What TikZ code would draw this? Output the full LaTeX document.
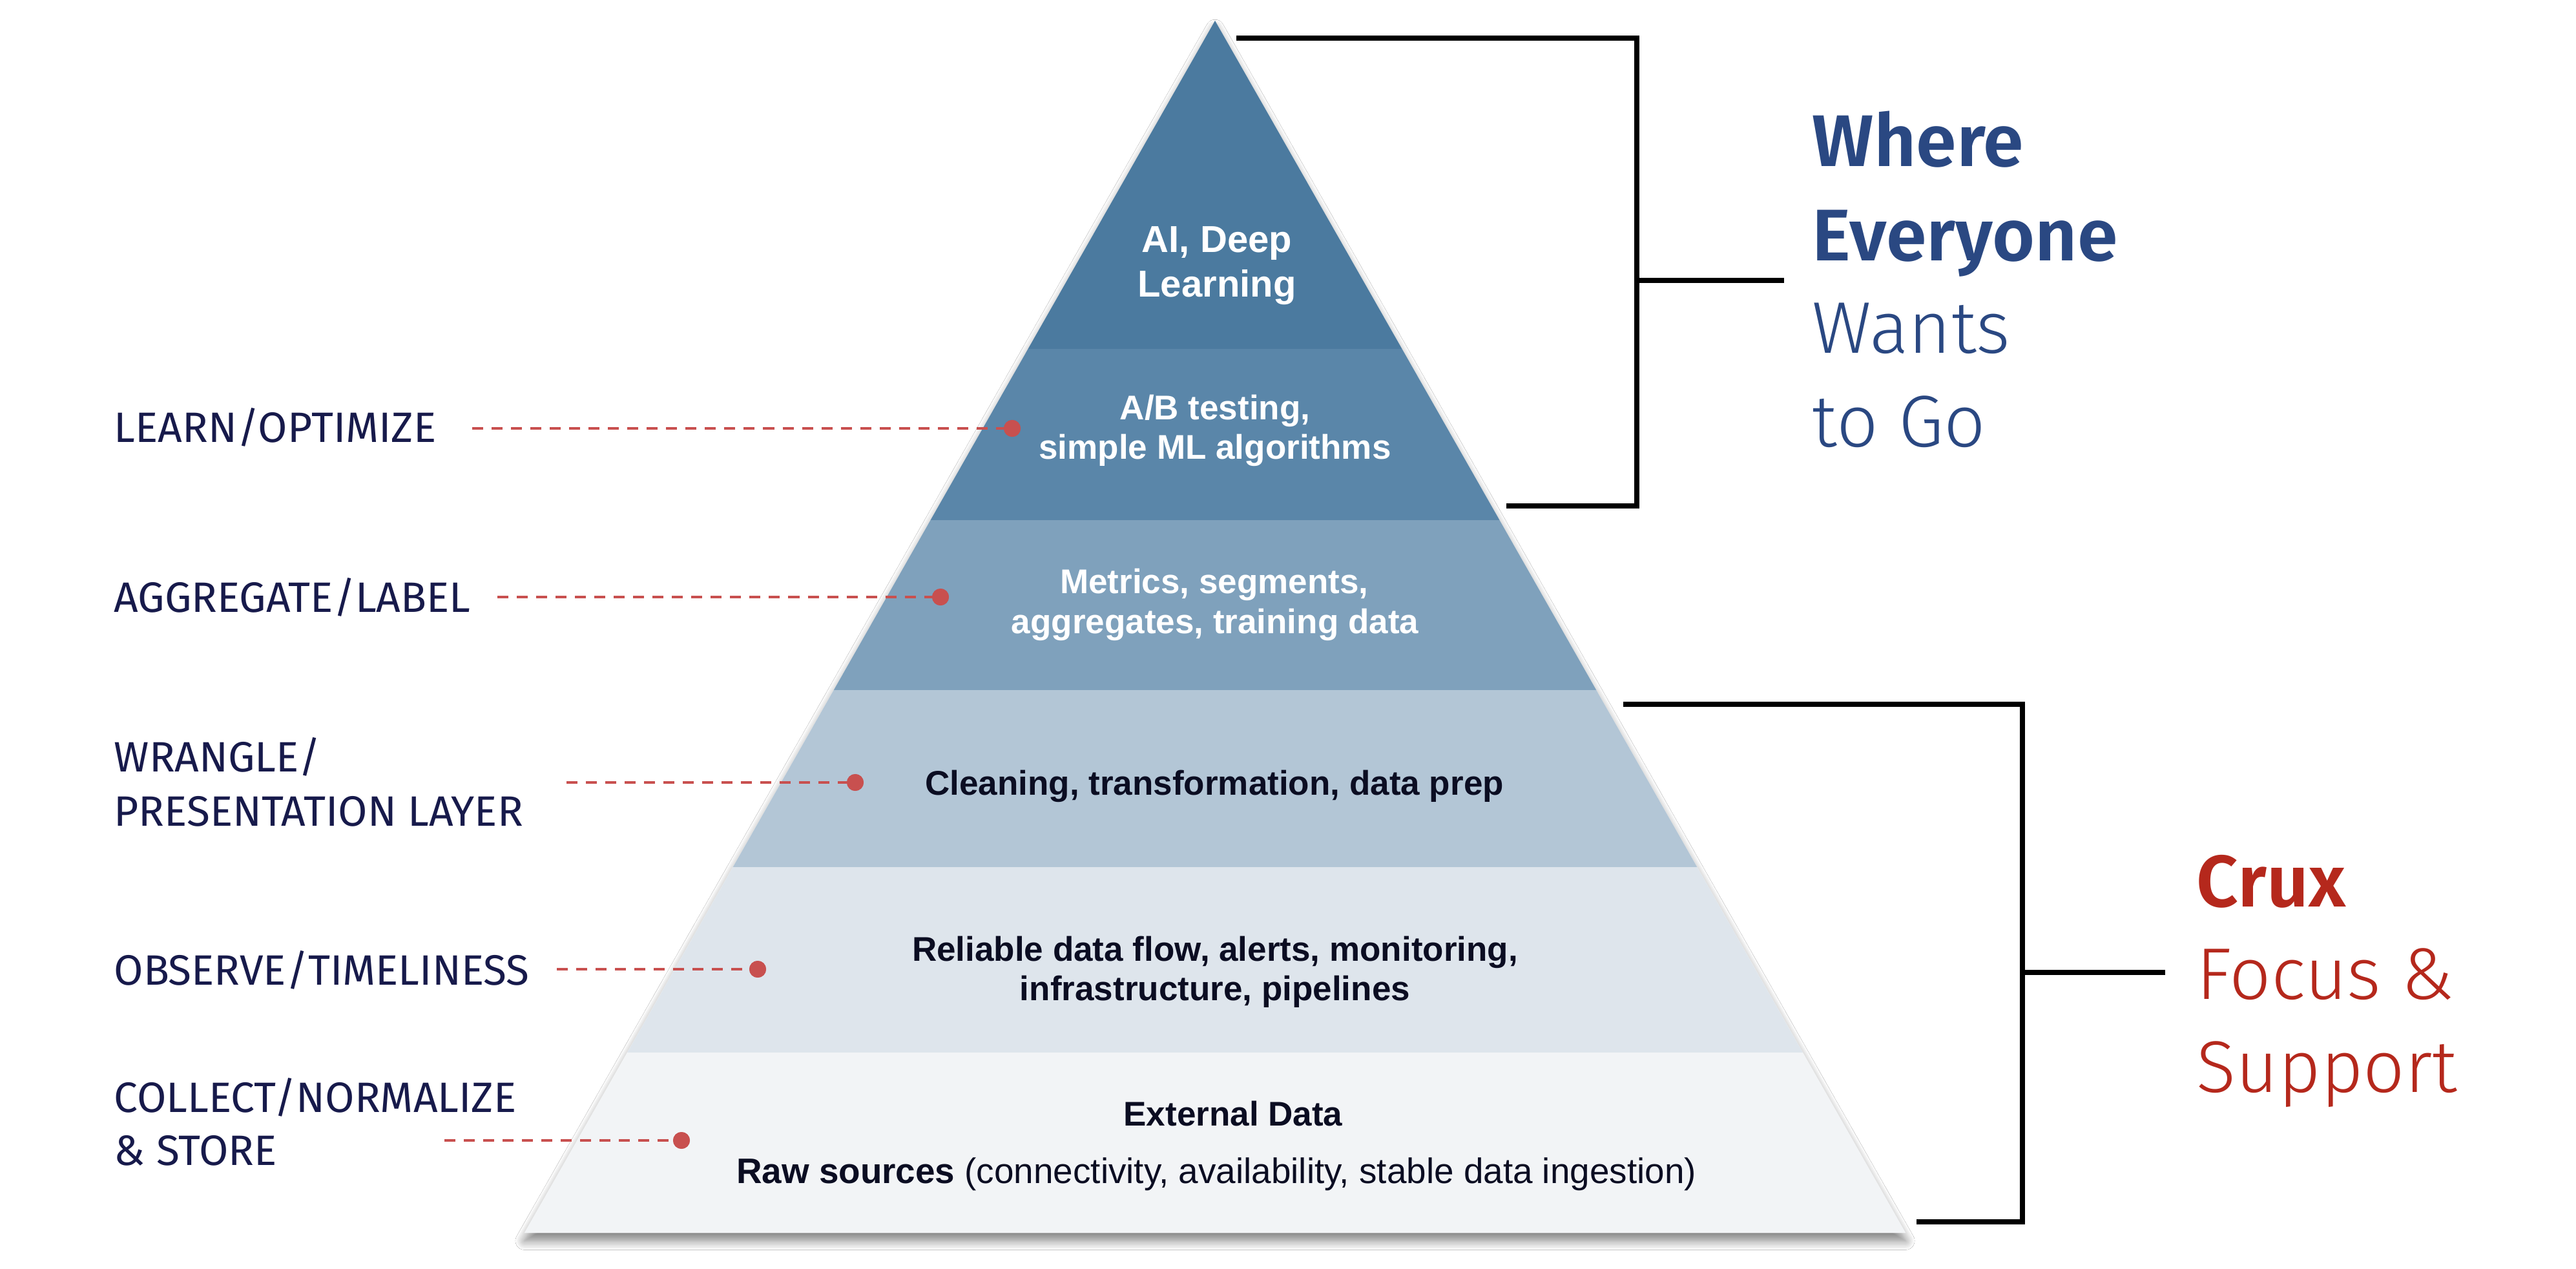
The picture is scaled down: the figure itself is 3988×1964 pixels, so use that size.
\documentclass[tikz,border=0pt]{standalone}
\usepackage{fontspec}
\setmainfont{Liberation Sans}
\newfontfamily\labfont{Fira Sans}
\newfontfamily\lightfont{Fira Sans Light}
\newfontfamily\semifont{Fira Sans SemiBold}
\usetikzlibrary{shadows.blur}
\definecolor{layA}{HTML}{4B7A9F}
\definecolor{layB}{HTML}{5A86A9}
\definecolor{layC}{HTML}{7FA1BC}
\definecolor{layD}{HTML}{B3C6D6}
\definecolor{layE}{HTML}{DEE5EC}
\definecolor{layF}{HTML}{F2F4F6}
\definecolor{navy}{HTML}{171A4B}
\definecolor{darktext}{HTML}{0B0D22}
\definecolor{dashred}{HTML}{C8504F}
\definecolor{headblue}{HTML}{2A4882}
\definecolor{cruxred}{HTML}{B5281C}
\begin{document}
\begin{tikzpicture}[x=0.01cm,y=-0.01cm,
  ptext/.style={font=\bfseries\fontsize{15.08}{18}\selectfont, anchor=base, inner sep=0pt},
  ptextbig/.style={font=\bfseries\fontsize{16.5}{20}\selectfont, anchor=base, inner sep=0pt, text=white},
  lab/.style={font=\labfont\fontsize{18.7}{22}\selectfont, text=navy, anchor=base west, inner sep=0pt},
  leader/.style={dashred, line width=1.14pt, dash pattern=on 4.84pt off 3.7pt},
  leaddot/.style={circle, fill=dashred, inner sep=0pt, minimum size=7.4pt},
  bracket/.style={black, line width=2.4pt, line join=miter},
  headbold/.style={font=\semifont\fontsize{32.2}{38}\selectfont, anchor=base west, inner sep=0pt},
  headlight/.style={font=\lightfont\fontsize{32.2}{38}\selectfont, anchor=base west, inner sep=0pt}
]
\useasboundingbox (0,0) rectangle (3988,1964);
\fill[white] (0,0) rectangle (3988,1964);

% pyramid outline with shadow
\coordinate (apex) at (1881,32);
\coordinate (bl) at (812,1908);
\coordinate (br) at (2950,1908);
\fill[white, blur shadow={shadow xshift=0pt, shadow yshift=-3.5pt, shadow blur radius=4pt, shadow blur steps=12, shadow opacity=50}] (apex) -- (br) -- (bl) -- cycle;

% layers
\fill[layA] (apex) -- (2170.5,540) -- (1591.5,540) -- cycle;
\fill[layB] (1591.5,540) -- (2170.5,540) -- (2321.5,805) -- (1440.5,805) -- cycle;
\fill[layC] (1440.5,805) -- (2321.5,805) -- (2471.3,1068) -- (1290.7,1068) -- cycle;
\fill[layD] (1290.7,1068) -- (2471.3,1068) -- (2627.4,1342) -- (1134.6,1342) -- cycle;
\fill[layE] (1134.6,1342) -- (2627.4,1342) -- (2790.9,1629) -- (971.1,1629) -- cycle;
\fill[layF] (971.1,1629) -- (2790.9,1629) -- (br) -- (bl) -- cycle;

% pyramid texts
\node[ptextbig] (ai1) at (1884,390) {AI, Deep};
\node[ptextbig] (ai2) at (1884,459) {Learning};
\node[ptext, text=white] (ab1) at (1881,649) {A/B testing,};
\node[ptext, text=white] (ab2) at (1881,710) {simple ML algorithms};
\node[ptext, text=white] (me1) at (1880,918) {Metrics, segments,};
\node[ptext, text=white] (me2) at (1881,980) {aggregates, training data};
\node[ptext, text=darktext] (cl1) at (1880,1230) {Cleaning, transformation, data prep};
\node[ptext, text=darktext] (re1) at (1881,1487) {Reliable data flow, alerts, monitoring,};
\node[ptext, text=darktext] (re2) at (1881,1548) {infrastructure, pipelines};
\node[ptext, text=darktext] (ex1) at (1909,1742) {External Data};
\node[anchor=base, inner sep=0pt, text=darktext, font=\fontsize{15.6}{18}\selectfont] (ex2) at (1883,1831) {\textbf{Raw sources} (connectivity, availability, stable data ingestion)};

% left labels
\node[lab] (l1) at (176,684) {LEARN/OPTIMIZE};
\node[lab] (l2) at (176,947) {AGGREGATE/LABEL};
\node[lab] (l3a) at (176,1194) {WRANGLE/};
\node[lab] (l3b) at (176,1278) {PRESENTATION LAYER};
\node[lab] (l4) at (176,1524) {OBSERVE/TIMELINESS};
\node[lab] (l5a) at (176,1721) {COLLECT/NORMALIZE};
\node[lab] (l5b) at (176,1803) {\&~STORE};

% leaders
\coordinate (s1) at (731,663);
\coordinate (s2) at (770,924);
\coordinate (s3) at (877,1211);
\coordinate (s4) at (862,1500);
\coordinate (s5) at (688,1765);
\node[leaddot] (d1) at (1567,663) {};
\node[leaddot] (d2) at (1456,924) {};
\node[leaddot] (d3) at (1324,1211) {};
\node[leaddot] (d4) at (1173,1500) {};
\node[leaddot] (d5) at (1055,1765) {};
\draw[leader] (s1) -- (d1.center);
\draw[leader] (s2) -- (d2.center);
\draw[leader] (s3) -- (d3.center);
\draw[leader] (s4) -- (d4.center);
\draw[leader] (s5) -- (d5.center);
\fill[dashred] (d1) circle[radius=3.7pt];
\fill[dashred] (d2) circle[radius=3.7pt];
\fill[dashred] (d3) circle[radius=3.7pt];
\fill[dashred] (d4) circle[radius=3.7pt];
\fill[dashred] (d5) circle[radius=3.7pt];

% top bracket
\coordinate (ta) at (1914,59);
\coordinate (tb) at (2534,59);
\coordinate (tc) at (2534,783);
\coordinate (td) at (2332,783);
\coordinate (tm) at (2534,434);
\coordinate (te) at (2762,434);
\draw[bracket] (ta) -- (tb) -- (tc) -- (td);
\draw[bracket] (tm) -- (te);

% bottom bracket
\coordinate (ba) at (2513,1090);
\coordinate (bb) at (3131,1090);
\coordinate (bc) at (3131,1891);
\coordinate (bd) at (2967,1891);
\coordinate (bm) at (3131,1505);
\coordinate (be) at (3352,1505);
\draw[bracket] (ba) -- (bb) -- (bc) -- (bd);
\draw[bracket] (bm) -- (be);

% right texts
\node[headbold, text=headblue] (w1) at (2805,258) {Where};
\node[headbold, text=headblue] (w2) at (2805,403) {Everyone};
\node[headlight, text=headblue] (w3) at (2805,546) {Wants};
\node[headlight, text=headblue] (w4) at (2805,691) {to Go};
\node[headbold, text=cruxred] (c1) at (3400,1403) {Crux};
\node[headlight, text=cruxred] (c2) at (3400,1546) {Focus \&};
\node[headlight, text=cruxred] (c3) at (3400,1690) {Support};
\end{tikzpicture}
\end{document}
